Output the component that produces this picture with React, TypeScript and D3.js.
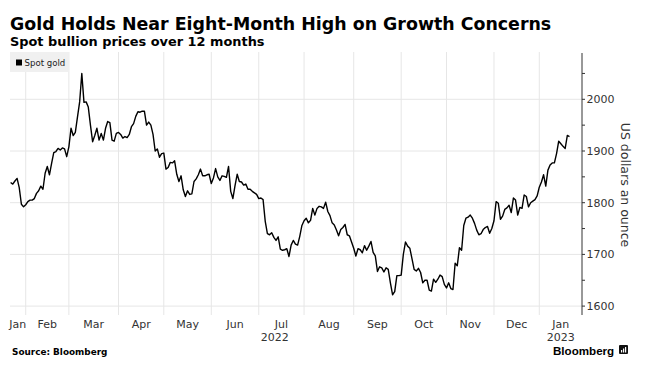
import React from "react";
import * as d3 from "d3";

// ---- data ----
const title = "Gold Holds Near Eight-Month High on Growth Concerns";
const subtitle = "Spot bullion prices over 12 months";
const seriesName = "Spot gold";
const axisTitle = "US dollars an ounce";
const sourceText = "Source: Bloomberg";
const brand = "Bloomberg";

const startDate = "2022-01-20";
const endDate = "2023-01-20";
const holidays = ["2022-12-26", "2023-01-02"];

// one closing price per trading day, grouped by month
const pricesJan22 = [1839, 1836, 1842, 1847, 1829, 1797, 1792, 1796];
const pricesFeb22 = [1802, 1805, 1805, 1808, 1818, 1823, 1832, 1826, 1857, 1870, 1854, 1876, 1897, 1899, 1905, 1902, 1906, 1904, 1889, 1908];
const pricesMar22 = [1944, 1930, 1936, 1966, 1995, 2050, 1994, 1995, 1985, 1950, 1918, 1930, 1944, 1921, 1934, 1921, 1944, 1957, 1955, 1921, 1919, 1934, 1936];
const pricesApr22 = [1932, 1925, 1928, 1926, 1932, 1947, 1953, 1967, 1976, 1975, 1977, 1977, 1950, 1956, 1950, 1932, 1900, 1904, 1888, 1895, 1896];
const pricesMay22 = [1865, 1868, 1878, 1877, 1881, 1855, 1841, 1852, 1825, 1812, 1823, 1816, 1817, 1841, 1846, 1854, 1865, 1852, 1852, 1854, 1855, 1837];
const pricesJun22 = [1848, 1866, 1850, 1843, 1852, 1851, 1849, 1870, 1822, 1808, 1833, 1855, 1841, 1840, 1834, 1836, 1826, 1826, 1822, 1819, 1816, 1808];
const pricesJul22 = [1809, 1806, 1764, 1740, 1738, 1742, 1733, 1727, 1734, 1710, 1708, 1709, 1711, 1696, 1718, 1727, 1720, 1718, 1735, 1756, 1765];
const pricesAug22 = [1770, 1761, 1766, 1789, 1776, 1789, 1793, 1792, 1789, 1801, 1783, 1775, 1761, 1757, 1747, 1736, 1748, 1752, 1758, 1738, 1736, 1724, 1712];
const pricesSep22 = [1697, 1711, 1709, 1703, 1717, 1708, 1716, 1725, 1704, 1697, 1667, 1676, 1674, 1666, 1674, 1671, 1645, 1622, 1628, 1659, 1659, 1660];
const pricesOct22 = [1700, 1724, 1716, 1712, 1692, 1671, 1668, 1673, 1665, 1645, 1650, 1650, 1631, 1629, 1652, 1646, 1652, 1660, 1657, 1642, 1635];
const pricesNov22 = [1645, 1634, 1632, 1683, 1678, 1713, 1708, 1756, 1770, 1772, 1776, 1770, 1760, 1747, 1738, 1740, 1748, 1752, 1754, 1741, 1750, 1765];
const pricesDec22 = [1802, 1799, 1768, 1774, 1787, 1790, 1795, 1781, 1809, 1805, 1776, 1791, 1789, 1815, 1812, 1792, 1800, 1803, 1806, 1813, 1830];
const pricesJan23 = [1840, 1854, 1832, 1863, 1873, 1877, 1877, 1895, 1919, 1914, 1909, 1905, 1930, 1928];

const monthNames = ["Jan", "Feb", "Mar", "Apr", "May", "Jun", "Jul", "Aug", "Sep", "Oct", "Nov", "Dec"];
const yMajorTicks = [1600, 1700, 1800, 1900, 2000];
const yMinorTicks = [1650, 1750, 1850, 1950, 2050];

// ---- layout ----
const W = 657;
const H = 381;
const plotLeft = 10;
const plotRight = 582;
const plotTop = 52;
const plotBottom = 315;

export default function App() {
  const prices = [
    ...pricesJan22, ...pricesFeb22, ...pricesMar22, ...pricesApr22, ...pricesMay22, ...pricesJun22,
    ...pricesJul22, ...pricesAug22, ...pricesSep22, ...pricesOct22, ...pricesNov22, ...pricesDec22, ...pricesJan23,
  ];
  const parse = d3.utcParse("%Y-%m-%d");
  const fmt = d3.utcFormat("%Y-%m-%d");
  const s = parse(startDate) as Date;
  const e = parse(endDate) as Date;
  const days = d3.utcDay
    .range(s, d3.utcDay.offset(e, 1))
    .filter((d) => d.getUTCDay() !== 0 && d.getUTCDay() !== 6 && !holidays.includes(fmt(d)));

  const n = Math.min(days.length, prices.length);
  const x = d3.scaleLinear().domain([0, n - 1]).range([10.6, 569.5]);
  const y = d3.scaleLinear().domain([1600, 2000]).range([306.1, 99.3]);

  const line = d3
    .line<number>()
    .x((_, i) => x(i))
    .y((d) => y(d));
  const path = line(prices.slice(0, n)) || "";

  // month boundaries: gridline at last trading day of previous month
  const grids: { px: number; date: Date }[] = [];
  for (let i = 1; i < n; i++) {
    if (days[i].getUTCMonth() !== days[i - 1].getUTCMonth()) {
      grids.push({ px: x(i - 1), date: days[i] });
    }
  }
  const edges = [plotLeft, ...grids.map((g) => g.px), plotRight];
  const monthStarts = [days[0], ...grids.map((g) => g.date)];
  const monthLabels = monthStarts.map((d, i) => ({
    text: monthNames[d.getUTCMonth()],
    cx: (edges[i] + edges[i + 1]) / 2,
  }));
  // year spans
  const years: { text: string; cx: number }[] = [];
  const yearStartIdx: number[] = [0];
  monthStarts.forEach((d, i) => {
    if (i > 0 && d.getUTCFullYear() !== monthStarts[i - 1].getUTCFullYear()) yearStartIdx.push(i);
  });
  yearStartIdx.forEach((mi, k) => {
    const left = edges[mi];
    const right = k + 1 < yearStartIdx.length ? edges[yearStartIdx[k + 1]] : plotRight;
    years.push({ text: String(monthStarts[mi].getUTCFullYear()), cx: (left + right) / 2 });
  });

  const tickFont = "'DejaVu Sans', sans-serif";
  const gridColor = "#e6e6e6";

  return (
    <svg
      width={W}
      height={H}
      viewBox={`0 0 ${W} ${H}`}
      style={{ position: "absolute", left: 0, top: 0, background: "#fff" }}
    >
      <rect x={0} y={0} width={W} height={H} fill="#fff" />
      {/* titles */}
      <text x={10} y={29.5} fontFamily="'DejaVu Sans', sans-serif" fontWeight={700} fontSize={17.4} fill="#000">
        {title}
      </text>
      <text x={10} y={46} fontFamily="'DejaVu Sans', sans-serif" fontWeight={700} fontSize={12.9} fill="#000">
        {subtitle}
      </text>

      {/* horizontal gridlines */}
      {yMajorTicks.map((t) => (
        <line key={"h" + t} x1={plotLeft} x2={plotRight} y1={y(t)} y2={y(t)} stroke={gridColor} strokeWidth={1} />
      ))}
      {/* vertical gridlines */}
      {grids.map((g, i) => (
        <line key={"v" + i} x1={g.px} x2={g.px} y1={plotTop} y2={plotBottom} stroke={gridColor} strokeWidth={1} />
      ))}

      {/* legend */}
      <rect x={10} y={52} width={59} height={20} fill="#f0f0f0" />
      <rect x={16} y={59.5} width={6} height={6} fill="#000" />
      <text x={24.5} y={65.6} fontFamily={tickFont} fontSize={8.6} fill="#222">
        {seriesName}
      </text>

      {/* series */}
      <path d={path} fill="none" stroke="#000" strokeWidth={1.4} strokeLinejoin="round" />

      {/* right axis */}
      <line x1={plotRight} x2={plotRight} y1={53} y2={plotBottom} stroke="#333" strokeWidth={1} />
      {[...yMajorTicks, ...yMinorTicks].map((t) => (
        <line key={"t" + t} x1={plotRight} x2={plotRight + 3} y1={y(t)} y2={y(t)} stroke="#333" strokeWidth={1} />
      ))}
      {yMajorTicks.map((t) => (
        <text key={"l" + t} x={plotRight + 4.5} y={y(t) + 4} fontFamily={tickFont} fontSize={11} fill="#333">
          {t}
        </text>
      ))}
      <text
        transform={`translate(621,185) rotate(90)`}
        textAnchor="middle"
        fontFamily={tickFont}
        fontSize={12.5}
        fill="#333"
      >
        {axisTitle}
      </text>

      {/* x labels */}
      {monthLabels.map((m, i) => (
        <text key={"m" + i} x={m.cx} y={328} textAnchor="middle" fontFamily={tickFont} fontSize={11} fill="#333">
          {m.text}
        </text>
      ))}
      {years.map((yr, i) => (
        <text key={"y" + i} x={yr.cx} y={341} textAnchor="middle" fontFamily={tickFont} fontSize={11} fill="#333">
          {yr.text}
        </text>
      ))}

      {/* footer */}
      <text x={12} y={355} fontFamily="'DejaVu Sans', sans-serif" fontWeight={700} fontSize={8.9} fill="#000">
        {sourceText}
      </text>
      <text x={553} y={355} fontFamily="'Liberation Sans', sans-serif" fontWeight={700} fontSize={11.6} fill="#000">
        {brand}
      </text>
      <rect x={619} y={345} width={9} height={9} rx={1} fill="#111" />
      <rect x={621} y={350} width={1.2} height={2.5} fill="#fff" />
      <rect x={623} y={348.5} width={1.2} height={4} fill="#fff" />
      <rect x={625} y={347} width={1.2} height={5.5} fill="#fff" />
    </svg>
  );
}
